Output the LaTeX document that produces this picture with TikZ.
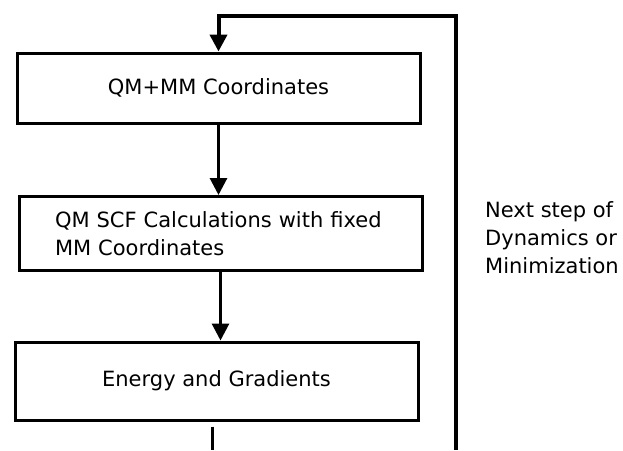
\documentclass[tikz,border=0pt]{standalone}
\usepackage{fontspec}
\setmainfont{DejaVu Sans}
\usetikzlibrary{positioning,arrows.meta}

\begin{document}
\begin{tikzpicture}[x=1pt, y=-1pt,
    stage/.style={draw, line width=3pt, minimum width=403pt, inner sep=0pt, font=\fontsize{21}{28}\selectfont},
    flow/.style={line width=3pt, -{Triangle[width=17pt, length=17pt]}},
    loopline/.style={line width=4pt}]
    \useasboundingbox (0,0) rectangle (623,450);
    \node[stage, minimum height=70pt] (coords) at (218.5,88) {QM+MM Coordinates};
    \node[stage, minimum height=74pt, text width=331pt, inner xsep=36pt, align=left] (scf) at (220.5,233.5) {QM SCF Calculations with fixed\\MM Coordinates};
    \node[stage, minimum height=78pt] (grad) at (216.5,381) {Energy and Gradients};
    \node[inner sep=0pt, anchor=west, align=left, font=\fontsize{21}{28}\selectfont] (next) at (485,238) {Next step of\\Dynamics or\\Minimization};
    \coordinate (loopbot) at (456,450);
    \coordinate (looptop) at (456,16);
    \coordinate (stub) at (212,450);
    % main chain
    \draw[flow] (coords.south) -- (coords.south |- scf.north);
    \draw[flow] (scf.south) -- (scf.south |- grad.north);
    \draw[line width=3pt] ([yshift=-5pt]grad.south -| stub) -- (stub);
    % back to the start
    \draw[flow, loopline] (loopbot) -- (looptop) -| (coords.north);
\end{tikzpicture}
\end{document}
